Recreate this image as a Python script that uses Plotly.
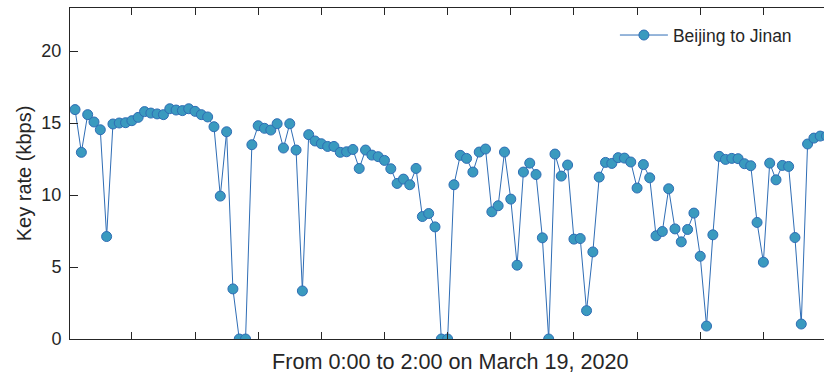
import plotly.graph_objects as go

x_index = list(range(1, 121))
key_rate = [
    15.94, 12.97, 15.59, 15.08, 14.54, 7.12, 14.94, 15.01, 15.03, 15.17,
    15.40, 15.80, 15.70, 15.64, 15.59, 16.00, 15.91, 15.87, 16.00, 15.82,
    15.59, 15.43, 14.75, 9.93, 14.40, 3.48, 0.0, 0.0, 13.50, 14.82,
    14.64, 14.52, 14.96, 13.27, 14.96, 13.13, 3.34, 14.20, 13.76, 13.57,
    13.38, 13.38, 12.97, 13.01, 13.17, 11.85, 13.13, 12.78, 12.67, 12.41,
    11.83, 10.81, 11.11, 10.72, 11.85, 8.51, 8.72, 7.79, 0.0, 0.0,
    10.72, 12.76, 12.55, 11.60, 12.99, 13.20, 8.84, 9.26, 12.99, 9.72,
    5.13, 11.60, 12.22, 11.43, 7.03, 0.0, 12.85, 11.32, 12.09, 6.94,
    6.98, 1.97, 6.05, 11.25, 12.27, 12.20, 12.60, 12.57, 12.30, 10.49,
    12.12, 11.20, 7.17, 7.47, 10.44, 7.65, 6.75, 7.61, 8.75, 5.75,
    0.90, 7.24, 12.69, 12.48, 12.55, 12.53, 12.18, 12.04, 8.10, 5.34,
    12.22, 11.06, 12.06, 11.99, 7.05, 1.04, 13.55, 13.96, 14.10, 14.10,
]
y_ticks = [0, 5, 10, 15, 20]
x_ticks = [10, 20, 30, 40, 50, 60, 70, 80, 90, 100, 110]
x_title = "From 0:00 to 2:00 on March 19, 2020"
y_title = "Key rate (kbps)"

axis_color = "#262626"
font_family = "Liberation Sans, Arial, sans-serif"

fig = go.Figure()
fig.add_trace(go.Scatter(
    x=x_index, y=key_rate, mode="lines+markers", name="Beijing to Jinan",
    line=dict(color="#2f6db5", width=1),
    marker=dict(size=10, color="#3a9abf", line=dict(color="#2f6db5", width=1)),
))

fig.add_annotation(
    text=x_title, xref="paper", yref="paper", x=0.505, y=-0.067,
    xanchor="center", yanchor="middle", showarrow=False,
    font=dict(size=21.6, color=axis_color, family=font_family),
)

fig.update_layout(
    width=824, height=377,
    margin=dict(l=70, r=0, t=8, b=38, autoexpand=False),
    paper_bgcolor="white", plot_bgcolor="white",
    font=dict(family=font_family, color=axis_color),
    showlegend=True,
    legend=dict(x=0.7227, y=0.918, xanchor="left", yanchor="middle",
                bgcolor="rgba(0,0,0,0)", borderwidth=0, itemwidth=48,
                font=dict(size=17.5, color=axis_color)),
    xaxis=dict(
        range=[0.2, 119.6], tickvals=x_ticks, showticklabels=False,
        ticks="inside", ticklen=7, tickcolor=axis_color, tickwidth=1,
        showline=True, linecolor=axis_color, linewidth=1, mirror="ticks",
        showgrid=False, zeroline=False, automargin=False,
    ),
    yaxis=dict(
        range=[0, 23], tickvals=y_ticks,
        ticks="inside", ticklen=8, tickcolor=axis_color, tickwidth=1,
        showline=True, linecolor=axis_color, linewidth=1,
        showgrid=False, zeroline=False, automargin=False,
        tickfont=dict(size=18, color=axis_color),
        ticklabelstandoff=4,
        title=dict(text=y_title, font=dict(size=20, color=axis_color),
                   standoff=4),
    ),
)

fig.write_html("out.html", config={"displayModeBar": False},
               post_script="document.body.style.margin='0px';")
